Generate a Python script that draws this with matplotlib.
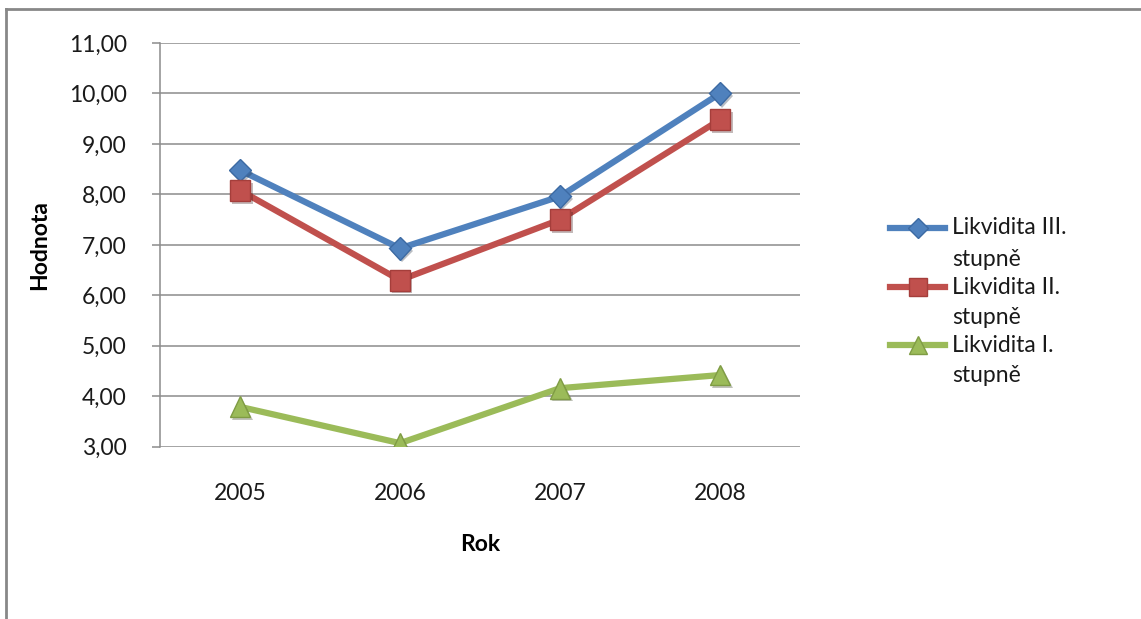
import matplotlib
matplotlib.use("Agg")
import matplotlib.pyplot as plt
from matplotlib.lines import Line2D
from matplotlib.ticker import FuncFormatter, MultipleLocator
import matplotlib.patheffects as pe

plt.rcParams['font.family'] = ['Lato', 'DejaVu Sans']

years = ["2005", "2006", "2007", "2008"]
likv3 = [8.48, 6.93, 7.96, 10.00]
likv2 = [8.08, 6.30, 7.50, 9.48]
likv1 = [3.79, 3.07, 4.16, 4.42]
labels = ["Likvidita III.\nstupně", "Likvidita II.\nstupně", "Likvidita I.\nstupně"]

colors = ["#4F81BD", "#C0504D", "#9BBB59"]
edge = ["#3C6AA3", "#A53E3B", "#7F9C44"]
markers = ["D", "s", "^"]
msizes = [11.5, 15, 15]
series = [likv3, likv2, likv1]

W, H = 1141, 619
fig = plt.figure(figsize=(W / 100, H / 100), dpi=100)
fig.patch.set_facecolor("white")

ax = fig.add_axes([160 / W, 1 - 446.7 / H, 640 / W, (446.7 - 43) / H])
x = list(range(len(years)))
for vals, c, ec, m, ms in zip(series, colors, edge, markers, msizes):
    ax.plot(x, vals, color=c, lw=4.5, solid_joinstyle="round", zorder=3)
    ax.plot(x, vals, ls="none", marker=m, ms=ms, markerfacecolor=c,
            markeredgecolor=ec, markeredgewidth=1, zorder=4,
            path_effects=[pe.SimplePatchShadow(offset=(1.5, -2), alpha=0.3), pe.Normal()])

ax.set_xlim(-0.5, 3.5)
ax.set_ylim(3, 11)
ax.yaxis.set_major_locator(MultipleLocator(1))
ax.yaxis.set_major_formatter(FuncFormatter(lambda v, p: f"{v:.2f}".replace(".", ",")))
ax.set_xticks(x)
ax.set_xticklabels(years)
ax.grid(axis="y", color="#8C8C8C", lw=1.1, zorder=0)
ax.set_axisbelow(True)
for s in ["top", "right", "bottom"]:
    ax.spines[s].set_visible(False)
ax.spines["left"].set_color("#8C8C8C")
ax.spines["left"].set_linewidth(1.1)
ax.tick_params(axis="y", length=6, width=1.1, color="#8C8C8C", pad=18, labelsize=16.5, labelcolor="#1a1a1a")
ax.tick_params(axis="x", length=0, pad=26, labelsize=16.5, labelcolor="#1a1a1a")
ax.set_xlabel("Rok", fontsize=16.5, fontweight="bold", labelpad=22)
ax.set_ylabel("Hodnota", fontsize=16.5, fontweight="bold", labelpad=13)

# legend (drawn manually to match layout)
leg_rows = [228, 287, 345]
for lab, c, ec, m, ms, yy in zip(labels, colors, edge, markers, msizes, leg_rows):
    yf = 1 - yy / H
    fig.add_artist(Line2D([890 / W, 945 / W], [yf, yf], color=c, lw=4.5, transform=fig.transFigure))
    fig.add_artist(Line2D([917.5 / W], [yf], marker=m, ms=ms * 0.85, color=c, markeredgecolor=ec,
                          transform=fig.transFigure))
    first, second = lab.split("\n")
    fig.text(952 / W, yf, first, fontsize=16.5, va="center", ha="left", color="#1a1a1a")
    fig.text(952 / W, 1 - (yy + 31) / H, second, fontsize=16.5, va="center", ha="left", color="#1a1a1a")

# chart frame (top and left visible)
fig.add_artist(Line2D([6 / W, 1], [1 - 9 / H, 1 - 9 / H], color="#888888", lw=2, transform=fig.transFigure))
fig.add_artist(Line2D([6 / W, 6 / W], [0, 1 - 9 / H], color="#888888", lw=2, transform=fig.transFigure))

fig.savefig("out.png", dpi=100)
